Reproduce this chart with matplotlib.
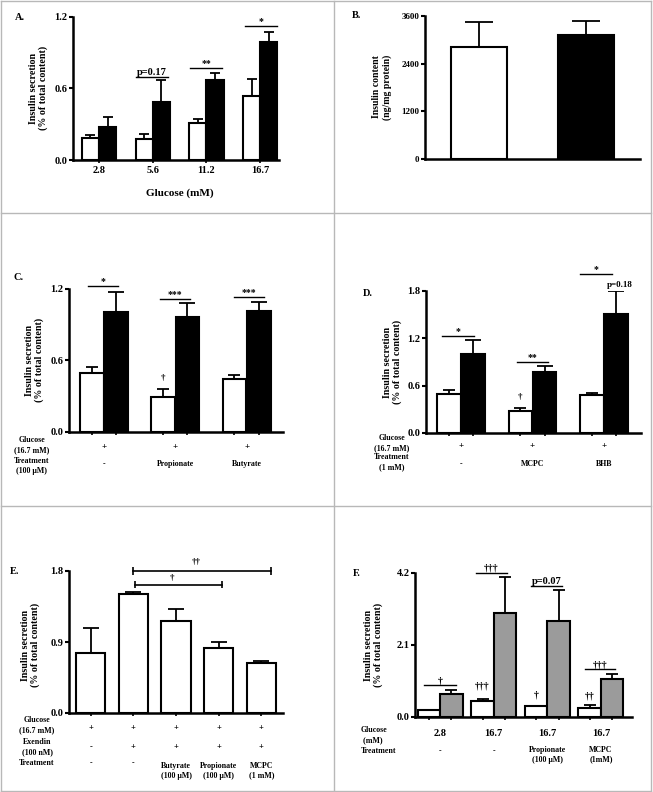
import matplotlib
import matplotlib.pyplot as plt
import matplotlib.transforms as mtrans
import numpy as np

matplotlib.use('agg')

plt.rcParams['font.family'] = ['Liberation Serif', 'DejaVu Serif']
plt.rcParams['font.weight'] = 'bold'
plt.rcParams['axes.labelweight'] = 'bold'

W, H = 653, 792
GREY = '#9b9b9b'

# ---- data ----
# A: insulin secretion vs glucose, white vs black
a_glucose = ['2.8', '5.6', '11.2', '16.7']
a_white = [0.187, 0.173, 0.307, 0.533]
a_white_err = [0.025, 0.042, 0.039, 0.142]
a_black = [0.279, 0.488, 0.670, 0.985]
a_black_err = [0.078, 0.179, 0.061, 0.089]

# B: insulin content
b_values = [2820, 3130]
b_err = [630, 350]

# C: SCFA treatment
c_treat = ['-', 'Propionate', 'Butyrate']
c_white = [0.492, 0.295, 0.444]
c_white_err = [0.050, 0.062, 0.034]
c_black = [1.006, 0.964, 1.012]
c_black_err = [0.172, 0.115, 0.076]

# D: MCPC / BHB
d_treat = ['-', 'MCPC', 'BHB']
d_white = [0.492, 0.282, 0.484]
d_white_err = [0.055, 0.029, 0.021]
d_black = [1.005, 0.778, 1.505]
d_black_err = [0.172, 0.071, 0.291]

# E: exendin
e_values = [0.765, 1.505, 1.169, 0.820, 0.631]
e_err = [0.307, 0.030, 0.143, 0.076, 0.029]
e_exendin = ['-', '+', '+', '+', '+']
e_treat = ['-', '-', 'Butyrate\n(100 \u00b5M)', 'Propionate\n(100 \u00b5M)', 'MCPC\n(1 mM)']

# F: white vs grey
f_glucose = ['2.8', '16.7', '16.7', '16.7']
f_treat = ['-', '-', 'Propionate\n(100 \u00b5M)', 'MCPC\n(1mM)']
f_white = [0.215, 0.469, 0.313, 0.273]
f_white_err = [0.0, 0.049, 0.02, 0.069]
f_grey = [0.684, 3.03, 2.80, 1.094]
f_grey_err = [0.116, 1.04, 0.89, 0.156]

fig = plt.figure(figsize=(W / 100, H / 100), dpi=100)


def add_ax(l, t, r, b):
    return fig.add_axes([l / W, 1 - b / H, (r - l) / W, (b - t) / H])


def fy(py):
    return 1 - py / H


def style(ax, ymax, ticks, labels, xlim):
    for s in ['top', 'right']:
        ax.spines[s].set_visible(False)
    for s in ['left', 'bottom']:
        ax.spines[s].set_linewidth(1.8)
    ax.set_ylim(0, ymax)
    ax.set_xlim(*xlim)
    ax.set_yticks(ticks)
    ax.set_yticklabels(labels)
    ax.tick_params(axis='y', direction='out', length=3, width=1.5, labelsize=7.5, pad=1)
    ax.tick_params(axis='x', direction='out', length=2.5, width=1.2, labelsize=7.5, pad=2)


def bars(ax, x, vals, errs, width, color, cap=4):
    ax.bar(x, vals, width, color=color, edgecolor='black', linewidth=1.5, zorder=2)
    ax.errorbar(x, vals, yerr=[np.zeros(len(vals)), errs], fmt='none', ecolor='black',
                elinewidth=1.3, capsize=cap, capthick=1.3, zorder=1)


def sig(ax, x0, x1, y, s, fs=7, dy=0.0):
    ax.plot([x0, x1], [y, y], color='black', lw=1.0, clip_on=False)
    ax.text((x0 + x1) / 2, y + dy, s, ha='center', va='bottom', fontsize=fs, clip_on=False)


def ylab(px, py, s, fs=7.2):
    fig.text(px / W, fy(py), s, rotation=90, ha='center', va='center',
             fontsize=fs, linespacing=1.15, multialignment='center')


def under(ax, x, py, s, fs=5.7):
    tr = mtrans.blended_transform_factory(ax.transData, fig.transFigure)
    ax.text(x, fy(py), s, transform=tr, ha='center', va='center', fontsize=fs,
            linespacing=1.2, clip_on=False)


def left_label(px, py, s, fs=5.7, ha='center'):
    fig.text(px / W, fy(py), s, ha=ha, va='center', fontsize=fs, linespacing=1.3)


# ---- panel A ----
ax = add_ax(72.7, 16.7, 279, 160)
xa = np.arange(len(a_glucose))
bars(ax, xa - 0.16, a_white, a_white_err, 0.32, 'white', cap=3.5)
bars(ax, xa + 0.16, a_black, a_black_err, 0.32, 'black', cap=3.5)
style(ax, 1.2, [0, 0.6, 1.2], ['0.0', '0.6', '1.2'], (-0.49, 3.35))
ax.set_xticks(xa)
ax.set_xticklabels(a_glucose)
sig(ax, 1 - 0.31, 1 + 0.28, 0.698, 'p=0.17', fs=7.5)
sig(ax, 2 - 0.30, 2 + 0.29, 0.768, '**')
sig(ax, 3 - 0.28, 3 + 0.31, 1.122, '*')
fig.text(180 / W, fy(193), 'Glucose (mM)', ha='center', va='center', fontsize=8)
ylab(38.5, 88, 'Insulin secretion\n(% of total content)')
fig.text(20 / W, fy(18), 'A.', ha='center', va='center', fontsize=7.5)

# ---- panel B ----
ax = add_ax(425, 16, 640, 159)
xb = np.arange(len(b_values))
bars(ax, xb[:1], b_values[:1], b_err[:1], 0.53, 'white', cap=10)
bars(ax, xb[1:], b_values[1:], b_err[1:], 0.53, 'black', cap=10)
style(ax, 3600, [0, 1200, 2400, 3600], ['0', '1200', '2400', '3600'], (-0.51, 1.51))
ax.set_xticks([])
ax.tick_params(axis='y', labelsize=6.5)
ylab(382, 87, 'Insulin content\n(ng/mg protein)', fs=7)
fig.text(357 / W, fy(15), 'B.', ha='center', va='center', fontsize=7.5)

# ---- panel C ----
ax = add_ax(69, 289, 283, 432)
xc = np.arange(len(c_treat))
bars(ax, xc - 0.17, c_white, c_white_err, 0.33, 'white', cap=4.5)
bars(ax, xc + 0.17, c_black, c_black_err, 0.33, 'black', cap=6)
style(ax, 1.2, [0, 0.6, 1.2], ['0.0', '0.6', '1.2'], (-0.49, 2.51))
ax.set_xticks(np.concatenate([xc - 0.17, xc + 0.17]))
ax.set_xticklabels([])
sig(ax, -0.23, 0.20, 1.228, '*')
sig(ax, 1 - 0.22, 1 + 0.21, 1.116, '***')
sig(ax, 2 - 0.18, 2 + 0.25, 1.133, '***')
ax.text(1 - 0.17, 0.45, '\u2020', ha='center', va='center', fontsize=6.5)
for i, t in enumerate(c_treat):
    under(ax, xc[i], 447, '+', fs=6.5)
    under(ax, xc[i], 464, t)
left_label(32, 445, 'Glucose\n(16.7 mM)')
left_label(32, 466, 'Treatment\n(100 \u00b5M)')
ylab(34.5, 360, 'Insulin secretion\n(% of total content)')
fig.text(19 / W, fy(278), 'C.', ha='center', va='center', fontsize=7.5)

# ---- panel D ----
ax = add_ax(426, 291, 641, 433)
xd = np.arange(len(d_treat))
bars(ax, xd - 0.17, d_white, d_white_err, 0.33, 'white', cap=4.5)
bars(ax, xd + 0.17, d_black, d_black_err, 0.33, 'black', cap=6)
style(ax, 1.8, [0, 0.6, 1.2, 1.8], ['0.0', '0.6', '1.2', '1.8'], (-0.49, 2.52))
ax.set_xticks(np.concatenate([xd - 0.17, xd + 0.17]))
ax.set_xticklabels([])
sig(ax, -0.27, 0.18, 1.228, '*')
sig(ax, 1 - 0.21, 1 + 0.22, 0.904, '**')
sig(ax, 2 - 0.33, 2 + 0.11, 2.01, '*')
ax.text(2 + 0.22, 1.87, 'p=0.18', ha='center', va='center', fontsize=6.5, clip_on=False)
ax.text(1 - 0.17, 0.46, '\u2020', ha='center', va='center', fontsize=6.5)
for i, t in enumerate(d_treat):
    under(ax, xd[i], 446, '+', fs=6.5)
    under(ax, xd[i], 464, t)
left_label(392, 443, 'Glucose\n(16.7 mM)')
left_label(392, 462, 'Treatment\n(1 mM)')
ylab(392.5, 362, 'Insulin secretion\n(% of total content)')
fig.text(368 / W, fy(293), 'D.', ha='center', va='center', fontsize=7.5)

# ---- panel E ----
ax = add_ax(69, 571, 283, 713)
xe = np.arange(len(e_values))
bars(ax, xe, e_values, e_err, 0.69, 'white', cap=5.5)
style(ax, 1.8, [0, 0.9, 1.8], ['0.0', '0.9', '1.8'], (-0.51, 4.51))
ax.set_xticks(xe)
ax.set_xticklabels([])
for x0, x1, y, s, tx, ty in [(1.0, 4.23, 1.8, '\u2020\u2020', 2.48, 1.91),
                             (1.04, 3.09, 1.627, '\u2020', 1.9, 1.716)]:
    ax.errorbar([x0, x1], [y, y], yerr=0.045, fmt='none', ecolor='black',
                elinewidth=1.2, capsize=0, clip_on=False)
    ax.plot([x0, x1], [y, y], color='black', lw=1.2, clip_on=False)
    ax.text(tx, ty, s, ha='center', va='center', fontsize=6.5)
for i in range(len(e_values)):
    under(ax, xe[i], 728, '+', fs=6)
    under(ax, xe[i], 747, e_exendin[i], fs=6)
    under(ax, xe[i], 771 if '\n' in e_treat[i] else 763, e_treat[i])
left_label(37, 725, 'Glucose\n(16.7 mM)')
left_label(37, 747, 'Exendin\n(100 nM)')
left_label(37, 763, 'Treatment')
ylab(30.5, 645, 'Insulin secretion\n(% of total content)')
fig.text(15 / W, fy(572), 'E.', ha='center', va='center', fontsize=7.5)

# ---- panel F ----
ax = add_ax(415, 573, 632, 717)
xf = np.arange(len(f_glucose))
bars(ax, xf - 0.21, f_white, f_white_err, 0.42, 'white', cap=4)
bars(ax, xf + 0.21, f_grey, f_grey_err, 0.42, GREY, cap=4.5)
style(ax, 4.2, [0, 2.1, 4.2], ['0.0', '2.1', '4.2'], (-0.47, 3.58))
ax.set_xticks(np.concatenate([xf - 0.21, xf + 0.21]))
ax.set_xticklabels([])
sig(ax, -0.30, 0.29, 0.928, '\u2020')
sig(ax, 1 - 0.34, 1 + 0.24, 4.2, '\u2020\u2020\u2020')
sig(ax, 2 - 0.30, 2 + 0.27, 3.81, 'p=0.07', fs=7.5)
sig(ax, 3 - 0.30, 3 + 0.27, 1.387, '\u2020\u2020\u2020')
ax.text(1 - 0.21, 0.9, '\u2020\u2020\u2020', ha='center', va='center', fontsize=7)
ax.text(2 - 0.21, 0.63, '\u2020', ha='center', va='center', fontsize=7)
ax.text(3 - 0.21, 0.61, '\u2020\u2020', ha='center', va='center', fontsize=7)
for i in range(len(f_glucose)):
    under(ax, xf[i], 733, f_glucose[i], fs=7.5)
    under(ax, xf[i], 755 if '\n' in f_treat[i] else 751, f_treat[i])
left_label(361, 735, 'Glucose\n (mM)', ha='left')
left_label(361, 751, 'Treatment', ha='left')
ylab(373.5, 645, 'Insulin secretion\n(% of total content)')
fig.text(357 / W, fy(573), 'F.', ha='center', va='center', fontsize=7.5)

# ---- cell borders ----
for x in [1, 334, 651]:
    fig.add_artist(plt.Line2D([x / W, x / W], [fy(1), fy(791)], color='#b8b8b8', lw=1.0))
for y in [1, 213, 506, 791]:
    fig.add_artist(plt.Line2D([1 / W, 651 / W], [fy(y), fy(y)], color='#b8b8b8', lw=1.0))

fig.savefig('out.png', dpi=100)
